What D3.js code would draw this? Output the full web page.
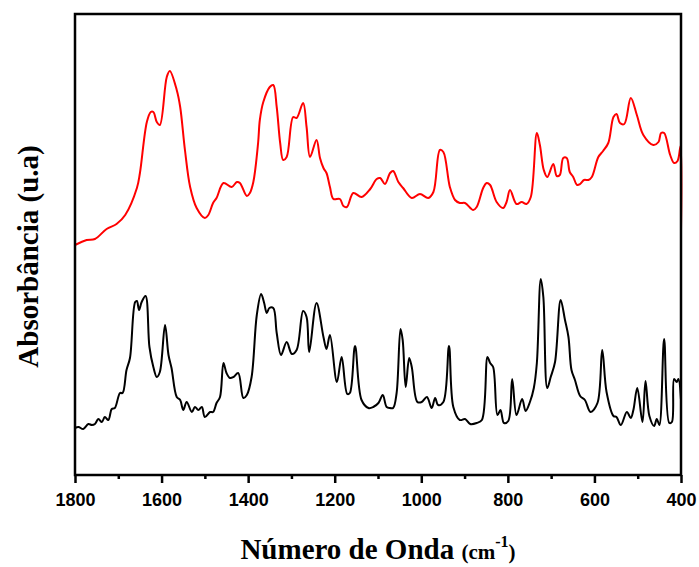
<!DOCTYPE html>
<html>
<head>
<meta charset="utf-8">
<script src="https://cdn.jsdelivr.net/npm/d3@7"></script>
<style>
	body { margin: 0; background: #fff; }
	svg { display: block; }
	.tick-label { font-family: "Liberation Sans", Arial, sans-serif; font-weight: bold; font-size: 18px; }
	.axis-title { font-family: "Liberation Serif", "Times New Roman", serif; font-weight: bold; }
</style>
</head>
<body>
<svg id="chart" width="699" height="567"></svg>
<script>
// Spectrum: wavenumber (cm-1) and absorbance (a.u., offset traces)
const redWavenumber = [1800, 1773, 1754, 1727, 1704, 1684, 1657, 1650, 1634, 1625, 1619, 1611, 1604, 1588, 1581, 1565, 1557, 1546, 1534, 1519,
	1500, 1492, 1481, 1473, 1457, 1438, 1426, 1419, 1403, 1396, 1388, 1377, 1373, 1365, 1350, 1342, 1334, 1326, 1319, 1311,
	1296, 1288, 1273, 1265, 1257, 1242, 1234, 1226, 1219, 1211, 1203, 1188, 1180, 1172, 1157, 1138, 1118, 1103, 1095, 1084,
	1072, 1065, 1053, 1042, 1022, 1003, 984, 972, 957, 949, 934, 922, 911, 899, 880, 872, 857, 849, 841, 826,
	811, 803, 795, 780, 768, 757, 747, 733, 726, 717, 709, 695, 687, 680, 672, 664, 657, 649, 640, 633,
	624, 614, 606, 591, 580, 568, 556, 549, 541, 531, 516, 502, 487, 464, 452, 446, 439, 425, 416, 408,
	401, 400];
const redAbsorbance = [2.30, 2.35, 2.36, 2.46, 2.51, 2.60, 2.87, 3.02, 3.53, 3.63, 3.63, 3.53, 3.50, 3.98, 4.04, 3.85, 3.68, 3.25, 2.88, 2.67,
	2.57, 2.60, 2.72, 2.77, 2.92, 2.88, 2.93, 2.92, 2.79, 2.82, 2.93, 3.32, 3.55, 3.73, 3.88, 3.90, 3.68, 3.32, 3.15, 3.18,
	3.58, 3.57, 3.72, 3.48, 3.18, 3.35, 3.17, 3.07, 3.02, 2.88, 2.76, 2.76, 2.69, 2.68, 2.82, 2.78, 2.86, 2.96, 2.97, 2.91,
	3.02, 3.04, 2.93, 2.87, 2.77, 2.81, 2.77, 2.83, 3.25, 3.23, 2.88, 2.75, 2.72, 2.72, 2.65, 2.68, 2.87, 2.92, 2.90, 2.73,
	2.67, 2.73, 2.85, 2.71, 2.73, 2.71, 2.78, 3.42, 3.30, 3.05, 2.98, 3.11, 2.99, 3.00, 3.17, 3.17, 3.03, 2.98, 2.90, 2.91,
	2.95, 2.95, 2.98, 3.18, 3.24, 3.32, 3.58, 3.61, 3.52, 3.51, 3.77, 3.60, 3.40, 3.30, 3.33, 3.42, 3.42, 3.20, 3.12, 3.14,
	3.29, 2.45];

const blackWavenumber = [1800, 1792, 1781, 1769, 1761, 1754, 1746, 1738, 1731, 1723, 1715, 1708, 1696, 1690, 1681, 1673, 1661, 1657, 1652, 1646,
	1637, 1628, 1619, 1611, 1604, 1592, 1584, 1577, 1565, 1557, 1550, 1542, 1530, 1523, 1515, 1507, 1500, 1488, 1481, 1473,
	1465, 1457, 1450, 1442, 1434, 1423, 1411, 1403, 1392, 1380, 1370, 1363, 1357, 1351, 1342, 1334, 1324, 1311, 1299, 1288,
	1273, 1265, 1259, 1242, 1226, 1219, 1211, 1195, 1184, 1171, 1165, 1153, 1138, 1122, 1111, 1099, 1089, 1080, 1072, 1065,
	1057, 1048, 1043, 1036, 1028, 1022, 1009, 999, 987, 976, 968, 961, 949, 936, 926, 911, 899, 887, 872, 860,
	847, 841, 834, 824, 817, 809, 799, 790, 780, 767, 759, 749, 740, 733, 724, 718, 709, 701, 691, 678,
	668, 660, 653, 645, 633, 622, 609, 593, 582, 572, 556, 549, 539, 525, 516, 510, 501, 489, 482, 473,
	462, 456, 450, 439, 427, 421, 416, 410, 406, 400];
const blackAbsorbance = [0.47, 0.48, 0.46, 0.51, 0.50, 0.51, 0.56, 0.53, 0.58, 0.55, 0.66, 0.67, 0.82, 0.82, 1.05, 1.17, 1.73, 1.74, 1.65, 1.73,
	1.79, 1.28, 1.08, 0.98, 1.03, 1.50, 1.20, 1.07, 0.78, 0.75, 0.65, 0.73, 0.63, 0.68, 0.65, 0.68, 0.58, 0.63, 0.63, 0.72,
	0.78, 1.12, 1.02, 0.97, 0.98, 1.02, 0.77, 0.80, 0.98, 1.60, 1.81, 1.72, 1.62, 1.67, 1.67, 1.42, 1.20, 1.33, 1.21, 1.25,
	1.64, 1.58, 1.23, 1.72, 1.38, 1.26, 1.40, 0.93, 1.18, 0.81, 0.82, 1.29, 0.75, 0.67, 0.68, 0.72, 0.80, 0.68, 0.67, 0.67,
	0.82, 1.46, 1.35, 0.88, 1.17, 1.08, 0.73, 0.73, 0.78, 0.67, 0.77, 0.70, 0.73, 1.29, 0.68, 0.55, 0.56, 0.51, 0.52, 0.55,
	1.18, 1.12, 1.08, 0.60, 0.65, 0.52, 0.54, 0.96, 0.60, 0.76, 0.64, 0.73, 0.87, 1.12, 1.96, 1.78, 0.87, 0.98, 1.13, 1.75,
	1.55, 1.38, 1.05, 0.95, 0.79, 0.75, 0.63, 0.72, 1.25, 0.83, 0.59, 0.58, 0.50, 0.63, 0.57, 0.65, 0.87, 0.53, 0.94, 0.59,
	0.49, 0.56, 0.50, 1.36, 0.52, 0.53, 0.96, 0.93, 0.96, 0.75];

const xMajorTicks = [1800, 1600, 1400, 1200, 1000, 800, 600, 400];
const xMinorTicks = [1700, 1500, 1300, 1100, 900, 700, 500];

const margin = { top: 14, right: 18, bottom: 92, left: 75 };
const width = 699, height = 567;

const svg = d3.select("#chart");

const x = d3.scaleLinear()
	.domain([1800, 400])
	.range([margin.left, width - margin.right]);

const y = d3.scaleLinear()
	.domain([0, 4.61])
	.range([height - margin.bottom, margin.top]);

const zip = (xs, ys) => xs.map((v, i) => [v, ys[i]]);

// a little smoothing, the reference traces are rounded
const line = d3.line()
	.x((d) => x(d[0]))
	.y((d) => y(d[1]))
	.curve(d3.curveCatmullRom.alpha(0.5));

// spectra
svg.append("path")
	.datum(zip(blackWavenumber, blackAbsorbance))
	.attr("fill", "none")
	.attr("stroke", "#000")
	.attr("stroke-width", 2)
	.attr("stroke-linejoin", "round")
	.attr("d", line);

svg.append("path")
	.datum(zip(redWavenumber, redAbsorbance))
	.attr("fill", "none")
	.attr("stroke", "#ff0000")
	.attr("stroke-width", 2)
	.attr("stroke-linejoin", "round")
	.attr("d", line);

// bottom axis: labelled major ticks plus short minor ones
const xAxis = svg.append("g")
	.attr("transform", `translate(0,${y(0)})`)
	.call(d3.axisBottom(x).tickValues(xMajorTicks).tickSize(8).tickPadding(10).tickFormat(d3.format("d")));

xAxis.select(".domain").remove();
xAxis.selectAll(".tick line").attr("stroke-width", 2.5);
xAxis.selectAll(".tick text")
	.attr("class", "tick-label")
	.attr("fill", "#000");

const xMinor = svg.append("g")
	.attr("transform", `translate(0,${y(0)})`)
	.call(d3.axisBottom(x).tickValues(xMinorTicks).tickSize(4).tickFormat(""));

xMinor.select(".domain").remove();
xMinor.selectAll(".tick line").attr("stroke-width", 2.5);

// frame
svg.append("rect")
	.attr("x", x(1800))
	.attr("y", y(4.61))
	.attr("width", x(400) - x(1800))
	.attr("height", y(0) - y(4.61))
	.attr("fill", "none")
	.attr("stroke", "#000")
	.attr("stroke-width", 2.5);

// axis titles
const xTitle = svg.append("text")
	.attr("class", "axis-title")
	.attr("x", (x(1800) + x(400)) / 2)
	.attr("y", 559)
	.attr("text-anchor", "middle")
	.style("font-size", "29px");

xTitle.append("tspan").text("Número de Onda ");
xTitle.append("tspan").style("font-size", "21px").text("(cm");
xTitle.append("tspan").style("font-size", "16px").attr("dy", -12).text("-1");
xTitle.append("tspan").style("font-size", "21px").attr("dy", 12).text(")");

svg.append("text")
	.attr("class", "axis-title")
	.attr("transform", `translate(38,${(y(0) + y(4.61)) / 2 + 12}) rotate(-90)`)
	.attr("text-anchor", "middle")
	.style("font-size", "29px")
	.text("Absorbância (u.a)");
</script>
</body>
</html>
